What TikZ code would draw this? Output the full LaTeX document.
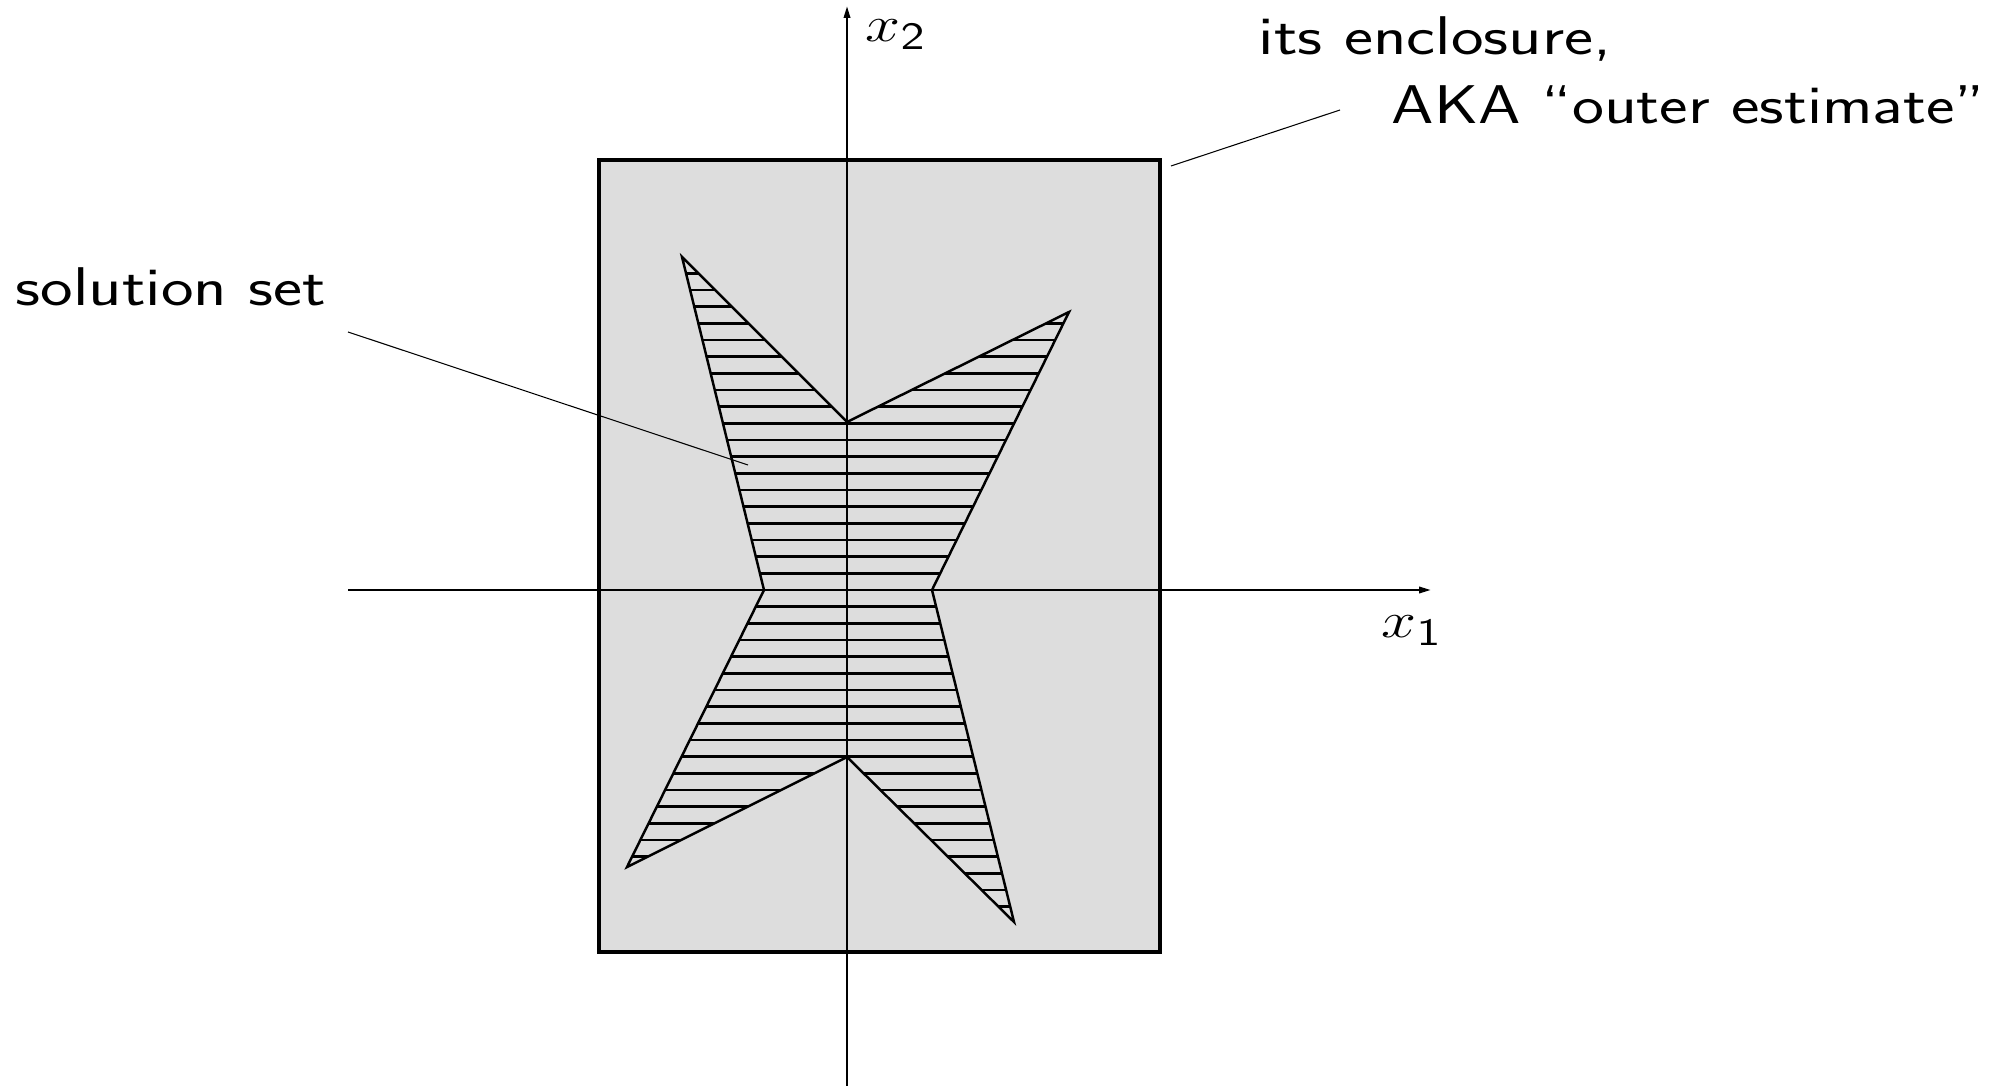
\documentclass[tikz,border=0pt]{standalone}
\usepackage{graphicx}
\usetikzlibrary{arrows.meta}
\definecolor{encl}{gray}{0.867}
\tikzset{
  lbl/.style={inner sep=0pt, font=\sffamily\fontsize{15.5}{18}\selectfont},
  axislbl/.style={inner sep=0pt, font=\fontsize{15.5}{18}\selectfont},
  boxedge/.style={line width=0.95pt, fill=encl},
  staredge/.style={line width=0.7pt, line join=miter},
  hatchline/.style={line width=0.68pt},
  leader/.style={line width=0.3pt},
  axisline/.style={line width=0.65pt, -{Triangle[length=3.4pt,width=1.8pt]}},
}
\begin{document}
\begin{tikzpicture}[x=0.01cm,y=-0.01cm]
\useasboundingbox (0,0) rectangle (2007,1086);
% enclosure
\coordinate (r1) at (599,160);
\coordinate (r2) at (1160,952);
\filldraw[boxedge] (r1) rectangle (r2);
% star (solution set)
\coordinate (p1) at (682,257);
\coordinate (p2) at (847,422);
\coordinate (p3) at (1069,312);
\coordinate (p4) at (932,590);
\coordinate (p5) at (1014,922);
\coordinate (p6) at (847,757);
\coordinate (p7) at (627,867);
\coordinate (p8) at (764,590);
\begin{scope}
  \clip (p1) -- (p2) -- (p3) -- (p4) -- (p5) -- (p6) -- (p7) -- (p8) -- cycle;
  \foreach \k in {-19,...,19}
    \draw[hatchline] (600,{590+16.667*\k}) -- (1160,{590+16.667*\k});
\end{scope}
\draw[staredge] (p1) -- (p2) -- (p3) -- (p4) -- (p5) -- (p6) -- (p7) -- (p8) -- cycle;
% axes
\coordinate (xa0) at (348,590);
\coordinate (xa1) at (1431,590);
\coordinate (ya0) at (847,1086);
\coordinate (ya1) at (847,6);
\draw[axisline] (xa0) -- (xa1);
\draw[axisline] (ya0) -- (ya1);
\node[axislbl, anchor=base west] (x1) at (1381,638) {\scalebox{1.24}[1]{$x_{\mathsf{1}}$}};
\node[axislbl, anchor=base west] (x2) at (865,42) {\scalebox{1.24}[1]{$x_{\mathsf{2}}$}};
% labels
\node[lbl, anchor=base west] (sol) at (15,306) {\scalebox{1.27}[1]{solution set}};
\node[lbl, anchor=base west] (enc) at (1258,55) {\scalebox{1.27}[1]{its enclosure,}};
\node[lbl, anchor=base west] (aka) at (1391,124) {\scalebox{1.245}[1]{AKA “outer estimate”}};
% leaders
\coordinate (s1) at (348,332);
\coordinate (s2) at (748,465);
\draw[leader] (s1) -- (s2);
\coordinate (e1) at (1171,166);
\coordinate (e2) at (1340,110);
\draw[leader] (e1) -- (e2);
\end{tikzpicture}
\end{document}
